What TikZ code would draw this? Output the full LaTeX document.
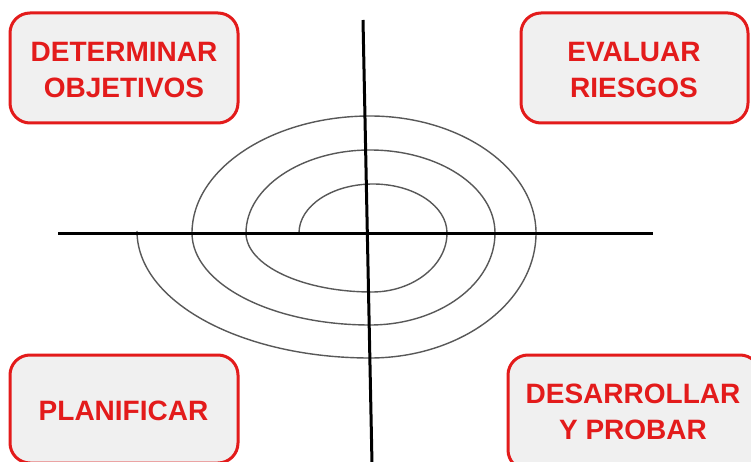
\documentclass[tikz,border=0pt]{standalone}
\usepackage{fontspec}
\setmainfont{Liberation Sans}
\definecolor{boxred}{HTML}{E31B1B}
\definecolor{boxfill}{HTML}{F0F0F0}
\definecolor{spiralgray}{HTML}{585858}
\begin{document}
\begin{tikzpicture}[x=1pt,y=-1pt,
  phasebox/.style={draw=boxred, fill=boxfill, line width=3pt, rounded corners=20pt, inner sep=0pt},
  phasetext/.style={text=boxred, font=\fontsize{28}{35.5}\selectfont\bfseries, align=center, inner sep=0pt},
  axisline/.style={line width=3pt, black},
  spiralline/.style={line width=1.4pt, spiralgray}]
\clip (0,0) rectangle (751,462);
\fill[white] (0,0) rectangle (751,462);
% boxes
\node[phasebox, minimum width=228pt, minimum height=110pt] (obj) at (124,68) {};
\node[phasebox, minimum width=227pt, minimum height=110pt] (rie) at (634.5,68) {};
\node[phasebox, minimum width=228pt, minimum height=108pt] (pla) at (124,409) {};
\node[phasebox, minimum width=252pt, minimum height=115pt] (des) at (634,412.5) {};
% texts
\node[phasetext] (objt) at (124,70) {DETERMINAR\\OBJETIVOS};
\node[phasetext] (riet) at (634,70) {EVALUAR\\RIESGOS};
\node[phasetext] (plat) at (123.5,411) {PLANIFICAR};
\node[phasetext] (dest) at (633,412) {DESARROLLAR\\Y PROBAR};
% spiral
\draw[spiralline] (299,233)
  .. controls (299,206) and (332,184) .. (373,184)
  .. controls (414,184) and (447,206) .. (447,233)
  .. controls (447,265.5) and (413,292) .. (372,292)
  .. controls (303,292) and (246,265.5) .. (246,233)
  .. controls (246,187.4) and (302,150) .. (370,150)
  .. controls (439,150) and (495,187) .. (495,233)
  .. controls (495,284) and (439,325) .. (370,325)
  .. controls (272,325) and (192,284) .. (192,233)
  .. controls (192,169) and (272,116) .. (370,116)
  .. controls (461,116) and (536,169) .. (536,233)
  .. controls (536,302) and (461,358) .. (370,358)
  .. controls (242,358) and (137,302) .. (137,231);
% axes
\coordinate (hl) at (58,233);
\coordinate (hr) at (653,233);
\coordinate (vt) at (363,20);
\coordinate (vb) at (372,464);
\draw[axisline] (hl) -- (hr);
\draw[axisline] (vt) -- (vb);
\end{tikzpicture}
\end{document}
